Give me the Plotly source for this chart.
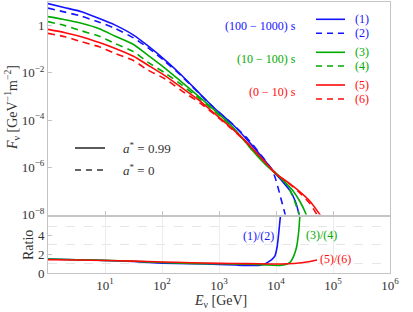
import plotly.graph_objects as go

# ---------------- data (log10 E [GeV], log10 F [GeV^-1 m^-2]) ----------------
logE_1 = [0, 0.3, 0.585, 0.9, 1.17, 1.5, 1.75, 2.05, 2.34, 2.67, 2.92, 3.25, 3.5, 3.75, 4.0, 4.12, 4.25, 4.34, 4.40, 4.42]
logF_1 = [0.93, 0.76, 0.59, 0.3, 0.03, -0.4, -0.85, -1.45, -2.09, -2.9, -3.5, -4.21, -4.85, -5.55, -6.29, -6.62, -7.0, -7.45, -7.95, -8.2]

logE_2 = [0, 0.3, 0.585, 0.9, 1.17, 1.5, 1.75, 2.05, 2.34, 2.67, 2.92, 3.25, 3.5, 3.75, 3.9, 3.98, 4.04, 4.1, 4.15, 4.18]
logF_2 = [0.74, 0.57, 0.40, 0.14, -0.11, -0.52, -0.93, -1.51, -2.13, -2.92, -3.5, -4.2, -4.78, -5.52, -6.0, -6.4, -6.9, -7.45, -7.9, -8.2]

logE_3 = [0, 0.3, 0.585, 0.9, 1.17, 1.5, 1.75, 2.05, 2.34, 2.67, 2.92, 3.2, 3.39, 3.58, 3.8, 4.0, 4.15, 4.3, 4.42, 4.52, 4.55]
logF_3 = [0.38, 0.25, 0.10, -0.13, -0.44, -0.8, -1.25, -1.8, -2.38, -3.05, -3.58, -4.2, -4.71, -5.27, -5.85, -6.28, -6.62, -7.0, -7.45, -7.95, -8.2]

logE_4 = [0, 0.3, 0.585, 0.9, 1.17, 1.5, 1.75, 2.05, 2.34, 2.67, 2.92, 3.2, 3.58, 3.8, 4.0, 4.15, 4.25, 4.33, 4.38, 4.42]
logF_4 = [0.17, 0.0, -0.22, -0.45, -0.75, -1.1, -1.55, -2.0, -2.5, -3.12, -3.62, -4.22, -5.25, -5.8, -6.25, -6.6, -7.0, -7.45, -7.8, -8.1]

logE_5 = [0, 0.3, 0.585, 0.9, 1.17, 1.5, 1.75, 2.05, 2.34, 2.67, 2.92, 3.2, 3.45, 3.7, 4.0, 4.2, 4.4, 4.6, 4.77, 4.8]
logF_5 = [-0.16, -0.3, -0.47, -0.72, -0.96, -1.3, -1.67, -2.12, -2.62, -3.2, -3.72, -4.3, -4.85, -5.5, -6.28, -6.62, -7.0, -7.45, -8.0, -8.1]

logE_6 = [0, 0.3, 0.585, 0.9, 1.17, 1.5, 1.75, 2.05, 2.34, 2.67, 2.92, 3.2, 3.45, 3.7, 4.0, 4.2, 4.4, 4.6, 4.74]
logF_6 = [-0.33, -0.47, -0.68, -0.9, -1.17, -1.48, -1.88, -2.25, -2.75, -3.28, -3.76, -4.33, -4.87, -5.5, -6.27, -6.63, -7.04, -7.55, -8.1]

# ratio panel (log10 E, ratio)
rlogE_12 = [0, 0.5, 1, 1.5, 2, 2.5, 3, 3.3, 3.55, 3.72, 3.8, 3.86, 3.92, 3.98, 4.02, 4.04, 4.06, 4.08, 4.1]
ratio_12 = [1.5, 1.42, 1.34, 1.22, 1.05, 0.98, 0.92, 0.85, 0.8, 0.83, 0.95, 1.16, 1.4, 1.8, 2.8, 3.8, 5.0, 6.2, 7.0]

rlogE_34 = [0, 0.5, 1, 1.5, 2, 2.5, 3, 3.5, 3.8, 3.95, 4.07, 4.17, 4.25, 4.31, 4.36, 4.40, 4.42, 4.43]
ratio_34 = [1.5, 1.42, 1.35, 1.25, 1.12, 1.03, 0.98, 0.93, 0.87, 0.82, 0.81, 0.9, 1.16, 1.8, 2.75, 4.5, 6.2, 7.0]

rlogE_56 = [0, 0.5, 1, 1.5, 2, 2.5, 3, 3.5, 3.9, 4.2, 4.45, 4.6, 4.72]
ratio_56 = [1.42, 1.38, 1.34, 1.27, 1.18, 1.1, 1.03, 1.0, 0.96, 0.98, 1.1, 1.22, 1.38]

x_tickvals = [1e1, 1e2, 1e3, 1e4, 1e5, 1e6]
x_ticktext = ["10<sup>1</sup>", "10<sup>2</sup>", "10<sup>3</sup>", "10<sup>4</sup>", "10<sup>5</sup>", "10<sup>6</sup>"]
y_tickvals = [1e-8, 1e-6, 1e-4, 1e-2, 1]
y_ticktext = ["10<sup>−8</sup>", "10<sup>−6</sup>", "10<sup>−4</sup>", "10<sup>−2</sup>", "1"]
r_tickvals = [0, 2, 4]

BLUE = "rgb(20,20,255)"
GREEN = "rgb(0,170,0)"
RED = "rgb(255,10,10)"
DASH = "7px,5px"
FONT = "Liberation Serif, 'Times New Roman', Times, serif"

def lin(v):
    return [10 ** a for a in v]

fig = go.Figure()

curves = [
    (logE_1, logF_1, BLUE, "solid"),
    (logE_2, logF_2, BLUE, DASH),
    (logE_3, logF_3, GREEN, "solid"),
    (logE_4, logF_4, GREEN, DASH),
    (logE_5, logF_5, RED, "solid"),
    (logE_6, logF_6, RED, DASH),
]
for xe, yf, col, dash in curves:
    fig.add_trace(go.Scatter(x=lin(xe), y=lin(yf), mode="lines",
                             line=dict(color=col, width=1.6, dash=dash, shape="spline", smoothing=0.6),
                             xaxis="x", yaxis="y", showlegend=False, hoverinfo="skip"))

for xe, r, col in [(rlogE_12, ratio_12, BLUE), (rlogE_34, ratio_34, GREEN), (rlogE_56, ratio_56, RED)]:
    fig.add_trace(go.Scatter(x=lin(xe), y=r, mode="lines",
                             line=dict(color=col, width=1.6, shape="spline", smoothing=0.5),
                             xaxis="x2", yaxis="y2", showlegend=False, hoverinfo="skip"))

FRAME = "#c4c4c4"
TICKF = dict(family=FONT, size=13, color="#333333")

# pixel -> paper helpers for decorations
PL, PR, PT, PB = 48, 390, 2, 273
def px(x):
    return (x - PL) / (PR - PL)
def py(y):
    return (PB - y) / (PB - PT)

fig.update_layout(
    width=413, height=312,
    margin=dict(l=PL, r=413 - PR, t=PT, b=312 - PB),
    paper_bgcolor="white", plot_bgcolor="white",
    font=dict(family=FONT, size=13, color="#333333"),
    xaxis=dict(type="log", range=[0, 6], domain=[0, 1], anchor="y", automargin=False,
               tickvals=x_tickvals, showticklabels=False, ticks="inside", ticklen=4,
               tickcolor=FRAME, showline=True, linecolor=FRAME, mirror=True, showgrid=False, zeroline=False),
    yaxis=dict(type="log", range=[-8, 1], domain=[py(214.5), 1], anchor="x", automargin=False,
               tickvals=y_tickvals, ticktext=y_ticktext, ticks="inside", ticklen=4, tickcolor=FRAME,
               tickfont=TICKF, showline=True, linecolor=FRAME, mirror=True, showgrid=False, zeroline=False),
    xaxis2=dict(type="log", range=[0, 6], domain=[0, 1], anchor="y2", automargin=False,
                tickvals=x_tickvals, ticktext=x_ticktext, ticks="", tickfont=TICKF,
                showline=True, linecolor=FRAME, mirror=True, showgrid=True, gridcolor="#ececec",
                gridwidth=1, zeroline=False),
    yaxis2=dict(range=[0, 6], domain=[0, py(216.7)], anchor="x2", automargin=False,
                tickvals=r_tickvals, ticks="inside", ticklen=4, tickcolor=FRAME, tickfont=TICKF,
                showline=True, linecolor=FRAME, mirror=True, showgrid=False, zeroline=False,
                minor=dict(tickvals=[1, 3, 5], showgrid=True, gridcolor="#e6e6e6", griddash="dash", ticks="")),
)

shapes = []
anns = []

def seg(x0, x1, y, col, dash):
    shapes.append(dict(type="line", xref="paper", yref="paper", x0=px(x0), x1=px(x1), y0=py(y), y1=py(y),
                       line=dict(color=col, width=1.6, dash=dash)))

def txt(x, y, s, col, xanchor="center", size=12, angle=0):
    anns.append(dict(xref="paper", yref="paper", x=px(x), y=py(y), text=s, showarrow=False,
                     xanchor=xanchor, yanchor="middle", textangle=angle,
                     font=dict(family=FONT, size=size, color=col)))

legend_rows = [
    ("(100 − 1000) s", BLUE, 26, 19.3, 33.3, "(1)", "(2)"),
    ("(10 − 100) s", GREEN, 59.3, 52.3, 66, "(3)", "(4)"),
    ("(0 − 10) s", RED, 92, 85, 99, "(5)", "(6)"),
]
for label, col, yt, ys, yd, l1, l2 in legend_rows:
    txt(298, yt, label, col, xanchor="right")
    seg(316, 345, ys, col, "solid")
    seg(316, 345, yd, col, "6px,5px")
    txt(362, ys, l1, col)
    txt(362, yd, l2, col)

seg(75, 105, 148, "#333333", "solid")
seg(75, 105, 170, "#333333", "6px,5px")
txt(121, 148, "<i>a</i><sup>*</sup> = 0.99", "#333333", xanchor="left", size=13)
txt(121, 170, "<i>a</i><sup>*</sup> = 0", "#333333", xanchor="left", size=13)

txt(258, 236, "(1)/(2)", BLUE, size=12)
txt(321, 235, "(3)/(4)", GREEN, size=12)
txt(335, 259, "(5)/(6)", RED, size=12)

txt(12, 108, "<i>F</i><sub>ν</sub> [GeV<sup>−1</sup>m<sup>−2</sup>]", "#333333", size=14, angle=-90)
txt(28, 245, "Ratio", "#333333", size=14, angle=-90)
txt(220, 301, "<i>E</i><sub>ν</sub> [GeV]", "#333333", size=14)

fig.update_layout(shapes=shapes, annotations=anns)
fig.write_html("out.html", config={"displayModeBar": False},
               post_script="document.body.style.margin='0';document.body.style.padding='0';")
